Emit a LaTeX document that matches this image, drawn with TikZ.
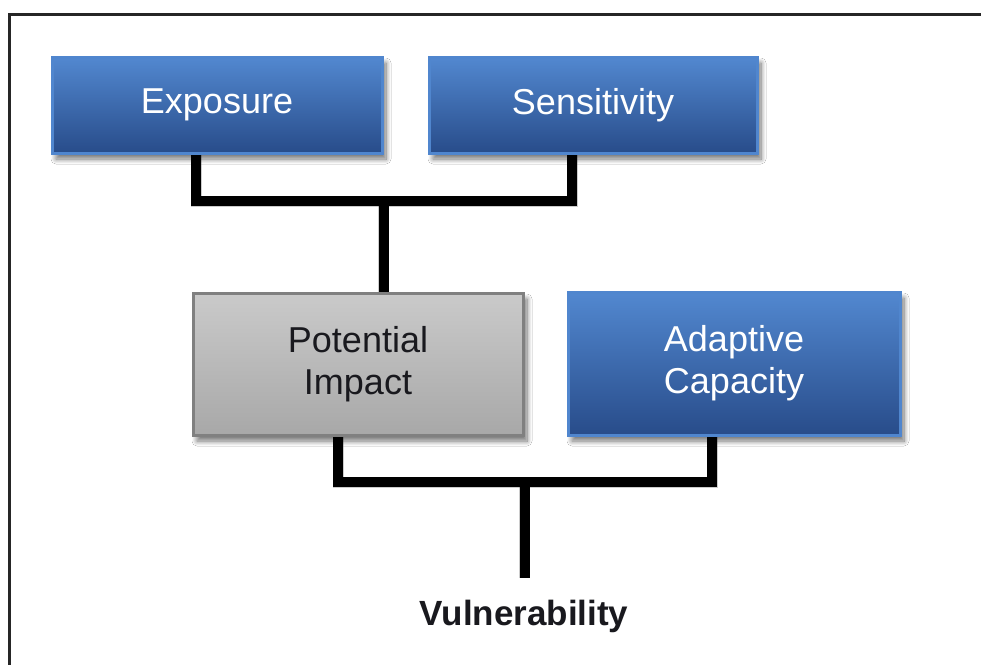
\documentclass[tikz,border=0pt]{standalone}
\usepackage{fontspec}
\setmainfont{Liberation Sans}
\usetikzlibrary{shadows.blur}
\pgfdeclarelayer{bg}
\pgfdeclarelayer{paper}
\pgfsetlayers{paper,bg,main}

\definecolor{blueTop}{RGB}{82,136,208}
\definecolor{blueBot}{RGB}{40,76,138}
\definecolor{blueEdge}{RGB}{80,134,206}
\definecolor{grayTop}{RGB}{202,202,202}
\definecolor{grayBot}{RGB}{168,168,168}
\definecolor{grayEdge}{RGB}{128,128,128}
\definecolor{darkText}{RGB}{25,25,30}

\tikzset{
  soft/.style={blur shadow={shadow xshift=4pt, shadow yshift=-6pt,
      shadow blur steps=10, shadow blur radius=5pt, shadow opacity=55}},
  bluebox/.style={draw=blueEdge, line width=3pt, top color=blueTop,
      bottom color=blueBot, text=white, font=\fontsize{36}{42}\selectfont,
      align=center, soft, inner sep=0pt},
  graybox/.style={draw=grayEdge, line width=3pt, top color=grayTop,
      bottom color=grayBot, text=darkText, font=\fontsize{36}{42}\selectfont,
      align=center, soft, inner sep=0pt},
  link/.style={line width=10pt, draw=black, line join=miter},
  linkshade/.style={line width=11pt, draw=black, opacity=0.2, line join=miter},
  frameline/.style={draw=black!85, line width=3pt},
}

\begin{document}
\begin{tikzpicture}[x=1pt, y=-1pt]
  \useasboundingbox (0,0) rectangle (981,664);

  % factor boxes
  \node[bluebox, minimum width=330pt, minimum height=96pt]  (E)  at (217,105) {Exposure};
  \node[bluebox, minimum width=328pt, minimum height=96pt]  (S)  at (593,105) {Sensitivity};
  \node[graybox, minimum width=330pt, minimum height=142pt] (PI) at (358,364) {Potential\\Impact};
  \node[bluebox, minimum width=332pt, minimum height=143pt] (AC) at (734,363.5) {Adaptive\\Capacity};
  \node[anchor=base, font=\fontsize{35}{42}\selectfont\bfseries, text=darkText,
        inner sep=0pt] (V) at (524,625) {Vulnerability};

  % junction points of the bracket connectors
  \coordinate (j1) at (383.5,201);
  \coordinate (j2) at (524.5,482);

  \begin{pgfonlayer}{paper}
    \fill[white] (0,0) rectangle (981,664);
    \begin{scope}
      \clip (0,0) rectangle (981,664);
      \draw[frameline] (9.5,680) -- (9.5,14.5) -- (1000,14.5);
    \end{scope}
  \end{pgfonlayer}

  \begin{pgfonlayer}{bg}
    % soft shadows under the connectors
    \begin{scope}[xshift=3pt, yshift=-5pt]
      \draw[linkshade] ([xshift=-21pt]E.south) |- (j1) -| ([xshift=-21pt]S.south);
      \draw[linkshade] (j1) -- (j1 |- PI.north);
      \draw[linkshade] ([xshift=-20pt]PI.south) |- (j2) -| ([xshift=-22pt]AC.south);
      \draw[linkshade] (j2) -- ([yshift=21pt]j2 |- V.north);
    \end{scope}
    \draw[link] ([xshift=-21pt]E.south) |- (j1) -| ([xshift=-21pt]S.south);
    \draw[link] (j1) -- (j1 |- PI.north);
    \draw[link] ([xshift=-20pt]PI.south) |- (j2) -| ([xshift=-22pt]AC.south);
    \draw[link] (j2) -- ([yshift=21pt]j2 |- V.north);
  \end{pgfonlayer}
\end{tikzpicture}
\end{document}
